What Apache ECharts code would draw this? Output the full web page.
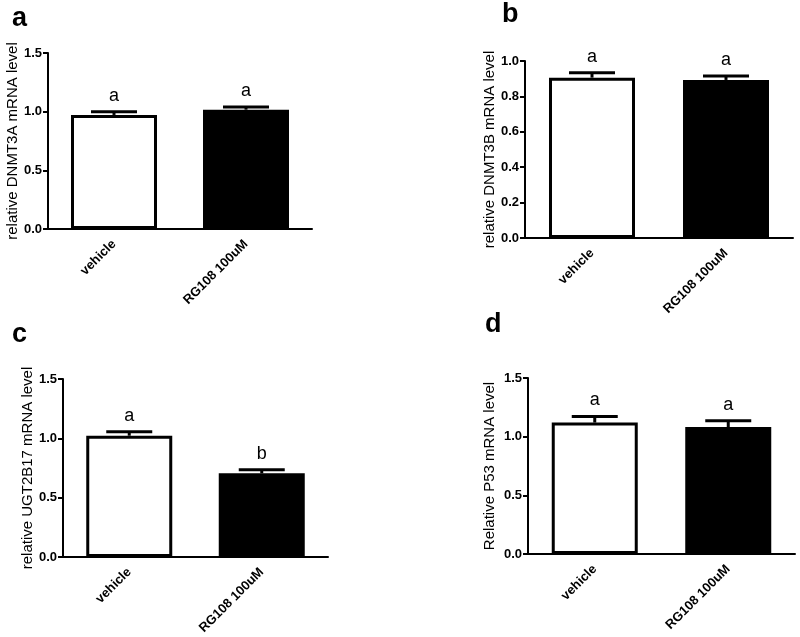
<!DOCTYPE html>
<html><head><meta charset="utf-8">
<script src="https://cdn.jsdelivr.net/npm/echarts@6/dist/echarts.min.js"></script>
<style>html,body{margin:0;padding:0;background:#fff}#c{width:800px;height:637px}</style>
</head><body><div id="c"></div>
<script>
// ---- data ----
const categories = ['vehicle', 'RG108 100uM'];
const dnmt3aMean = [0.972, 1.017];
const dnmt3aErr = [0.028, 0.023];
const dnmt3aSig = ['a', 'a'];
const dnmt3bMean = [0.906, 0.893];
const dnmt3bErr = [0.028, 0.022];
const dnmt3bSig = ['a', 'a'];
const ugt2b17Mean = [1.022, 0.705];
const ugt2b17Err = [0.033, 0.031];
const ugt2b17Sig = ['a', 'b'];
const p53Mean = [1.12, 1.082];
const p53Err = [0.052, 0.054];
const p53Sig = ['a', 'a'];
const panelLetters = ['a', 'b', 'c', 'd'];
const yTitles = ['relative DNMT3A mRNA level', 'relative DNMT3B mRNA level', 'relative UGT2B17 mRNA level', 'Relative P53 mRNA level'];
const yMax = [1.5, 1.0, 1.5, 1.5];
const yInterval = [0.5, 0.2, 0.5, 0.5];

// ---- layout / style ----
const FONT = 'Liberation Sans, Arial, sans-serif';
const panels = [
  { mean: dnmt3aMean, err: dnmt3aErr, sig: dnmt3aSig },
  { mean: dnmt3bMean, err: dnmt3bErr, sig: dnmt3bSig },
  { mean: ugt2b17Mean, err: ugt2b17Err, sig: ugt2b17Sig },
  { mean: p53Mean, err: p53Err, sig: p53Sig }
];
const grids = [
  { left: 48, top: 53, width: 264, height: 176 },
  { left: 525, top: 61, width: 268, height: 177 },
  { left: 63, top: 379, width: 265, height: 178 },
  { left: 528, top: 378, width: 267, height: 176 }
];
const nameGaps = [28, 27, 28, 31];
const letterPos = [[12, 18], [502, 14], [12, 334], [485, 324]];
const barFill = ['#ffffff', '#000000'];

const option = {
  animation: false,
  backgroundColor: '#ffffff',
  grid: grids.map(g => Object.assign({ containLabel: false }, g)),
  xAxis: grids.map((g, i) => ({
    type: 'category', gridIndex: i, data: categories,
    axisLine: { lineStyle: { color: '#000', width: 2 } },
    axisTick: { alignWithLabel: true, length: 5, lineStyle: { color: '#000', width: 2 } },
    axisLabel: { rotate: 45, margin: 13, color: '#000', fontFamily: FONT, fontWeight: 'bold', fontSize: 13 },
    splitLine: { show: false }
  })),
  yAxis: grids.map((g, i) => ({
    type: 'value', gridIndex: i, min: 0, max: yMax[i], interval: yInterval[i],
    name: yTitles[i], nameLocation: 'middle', nameRotate: 90, nameGap: nameGaps[i],
    nameTextStyle: { color: '#000', fontFamily: FONT, fontSize: 15 },
    axisLine: { show: true, lineStyle: { color: '#000', width: 2 } },
    axisTick: { show: true, length: 5, lineStyle: { color: '#000', width: 2 } },
    axisLabel: { margin: 6, color: '#000', fontFamily: FONT, fontWeight: 'bold', fontSize: 13,
      formatter: v => v.toFixed(1) },
    splitLine: { show: false }
  })),
  graphic: panelLetters.map((t, i) => ({
    type: 'text', left: letterPos[i][0], top: letterPos[i][1] - 13,
    style: { text: t, fill: '#000', font: 'bold 27px ' + FONT }
  })),
  series: []
};

panels.forEach((p, i) => {
  option.series.push({
    type: 'bar', xAxisIndex: i, yAxisIndex: i, barWidth: 86,
    data: p.mean.map((v, k) => ({
      value: v,
      itemStyle: { color: barFill[k], borderColor: '#000', borderWidth: 3 }
    }))
  });
  option.series.push({
    type: 'custom', xAxisIndex: i, yAxisIndex: i, z: 5, clip: false,
    data: p.mean.map((v, k) => [k, v, p.err[k]]),
    encode: { x: 0, y: 1 },
    renderItem: (params, api) => {
      const x = api.value(0), m = api.value(1), e = api.value(2);
      const top = api.coord([x, m]);
      const cap = api.coord([x, m + e]);
      const ls = { stroke: '#000', lineWidth: 3 };
      return {
        type: 'group',
        children: [
          { type: 'line', shape: { x1: top[0], y1: top[1], x2: cap[0], y2: cap[1] }, style: ls },
          { type: 'line', shape: { x1: cap[0] - 23, y1: cap[1], x2: cap[0] + 23, y2: cap[1] }, style: ls },
          { type: 'text', x: cap[0], y: cap[1] - 7,
            style: { text: p.sig[params.dataIndex], fill: '#000', font: '18px ' + FONT,
              align: 'center', verticalAlign: 'bottom' } }
        ]
      };
    }
  });
});

const chart = echarts.init(document.getElementById('c'), null, { renderer: 'canvas' });
chart.setOption(option);
</script></body></html>
